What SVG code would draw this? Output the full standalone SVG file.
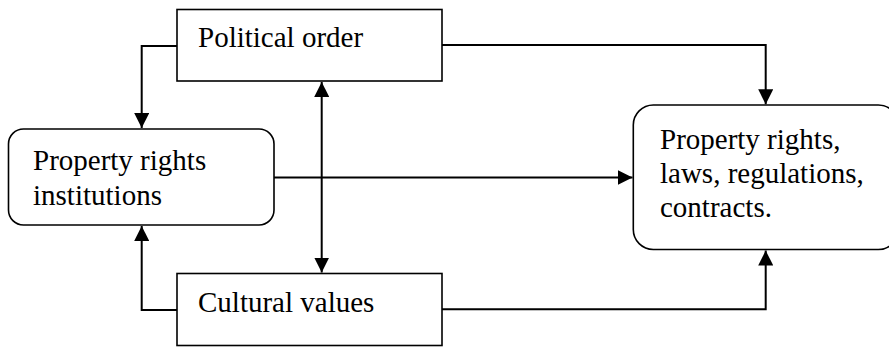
<svg xmlns="http://www.w3.org/2000/svg" width="889" height="349" viewBox="0 0 889 349">
<style>
.box{fill:#fff;stroke:#000;stroke-width:1.6}
.lbl{font-family:"Liberation Serif","Times New Roman",serif;font-size:29px;fill:#000}
.con{fill:none;stroke:#000;stroke-width:2}
</style>
<defs>
<marker id="ah" markerUnits="userSpaceOnUse" markerWidth="15" markerHeight="15" refX="15" refY="7.5" orient="auto-start-reverse" viewBox="0 0 15 15">
<path d="M0,0 L15,7.5 L0,15 z" fill="#000"/>
</marker>
</defs>
<rect width="889" height="349" fill="#fff"/>
<g id="political-order">
<rect class="box" x="177" y="9.5" width="265" height="71.5"/>
<text class="lbl" x="198" y="47">Political order</text>
</g>
<g id="property-rights-institutions">
<rect class="box" x="8.5" y="129" width="265.5" height="96" rx="15" ry="15"/>
<text class="lbl" x="33" y="170">Property rights</text>
<text class="lbl" x="33" y="205">institutions</text>
</g>
<g id="cultural-values">
<rect class="box" x="177" y="273.5" width="265" height="72"/>
<text class="lbl" x="198" y="311.5">Cultural values</text>
</g>
<g id="property-rights-laws">
<rect class="box" x="633.3" y="105" width="265" height="144.5" rx="20" ry="20"/>
<text class="lbl" x="660" y="148.5">Property rights,</text>
<text class="lbl" x="660" y="182.5">laws, regulations,</text>
<text class="lbl" x="660" y="216.5">contracts.</text>
</g>
<g id="connectors">
<path class="con" d="M177,46 H141.7 V128" marker-end="url(#ah)"/>
<path class="con" d="M177,310 H141.7 V226" marker-end="url(#ah)"/>
<path class="con" d="M321.7,82 V272.5" marker-start="url(#ah)" marker-end="url(#ah)"/>
<path class="con" d="M274,177.5 H632.5" marker-end="url(#ah)"/>
<path class="con" d="M442,45 H765.7 V104.3" marker-end="url(#ah)"/>
<path class="con" d="M442,309.3 H765.7 V250.5" marker-end="url(#ah)"/>
</g>
</svg>
